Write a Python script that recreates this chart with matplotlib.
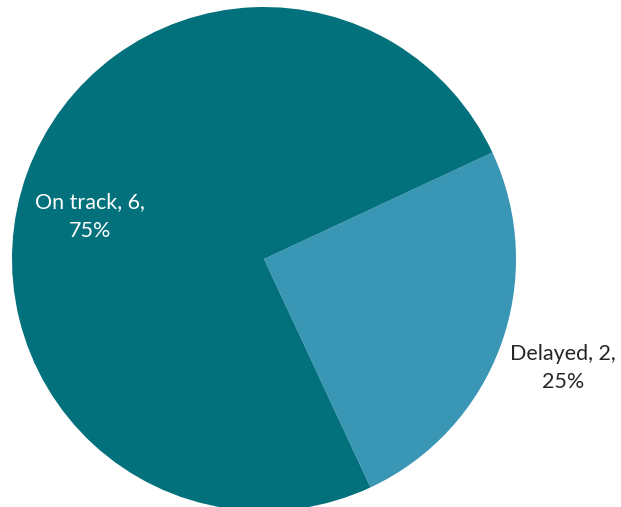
import numpy as np
import matplotlib.pyplot as plt

# datos del grafico
categorias = ["Delayed", "On track"]
valores = [2, 6]
colores = ["#3A96B5", "#03717C"]
color_texto = ["#262626", "white"]

fig = plt.figure(figsize=(6.21, 5.07), dpi=100)
ax = fig.add_axes([0, 0, 1, 1])

cunas, _ = ax.pie(valores, colors=colores, startangle=25, counterclock=False,
                  radius=1, wedgeprops=dict(linewidth=0))

# centro y radio en pixeles
cx, cy, rad = 264, 259, 252
ax.set_xlim(-cx / rad, (621 - cx) / rad)
ax.set_ylim(-(507 - cy) / rad, cy / rad)
ax.set_aspect("auto")
ax.axis("off")

total = sum(valores)
# posicion de etiquetas (angulo, distancia)
pos_etiquetas = [(-20, 1.264), (166.4, 0.71)]
for i, (ang, dist) in enumerate(pos_etiquetas):
    pct = round(100 * valores[i] / total)
    txt = f"{categorias[i]}, {valores[i]},\n{pct}%"
    x = dist * np.cos(np.radians(ang))
    y = dist * np.sin(np.radians(ang))
    ax.text(x, y, txt, ha="center", va="center", fontsize=15.5,
            family="Lato", color=color_texto[i], linespacing=1.55)

fig.savefig("out.png", dpi=100)
